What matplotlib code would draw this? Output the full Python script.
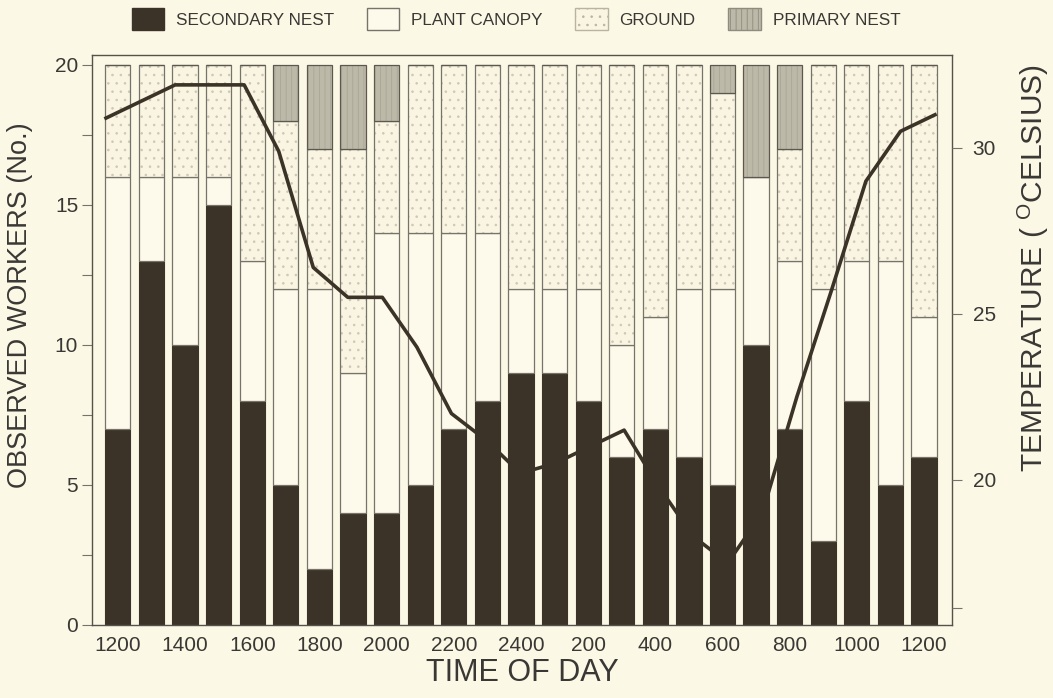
"""Worker location by hour (stacked bars) with air temperature overlay."""
import numpy as np
import matplotlib.pyplot as plt
from matplotlib.patches import Patch

plt.rcParams["font.family"] = ["Liberation Sans", "DejaVu Sans"]
plt.rcParams["mathtext.fontset"] = "custom"
plt.rcParams["mathtext.rm"] = "Liberation Sans"
plt.rcParams["hatch.linewidth"] = 0.6

hours = ["1200", "1300", "1400", "1500", "1600", "1700", "1800", "1900", "2000",
         "2100", "2200", "2300", "2400", "100", "200", "300", "400", "500", "600",
         "700", "800", "900", "1000", "1100", "1200"]
secondary_nest = [7, 13, 10, 15, 8, 5, 2, 4, 4, 5, 7, 8, 9, 9, 8, 6, 7, 6, 5, 10, 7, 3, 8, 5, 6]
plant_canopy = [9, 3, 6, 1, 5, 7, 10, 5, 10, 9, 7, 6, 3, 3, 4, 4, 4, 6, 7, 6, 6, 9, 5, 8, 5]
ground = [4, 4, 4, 4, 7, 6, 5, 8, 4, 6, 6, 6, 8, 8, 8, 10, 9, 8, 7, 0, 4, 8, 7, 7, 9]
primary_nest = [0, 0, 0, 0, 0, 2, 3, 3, 2, 0, 0, 0, 0, 0, 0, 0, 0, 0, 1, 4, 3, 0, 0, 0, 0]
temperature = [30.9, 31.4, 31.9, 31.9, 31.9, 29.9, 26.4, 25.5, 25.5, 24.0, 22.0, 21.2, 20.2,
               20.5, 21.0, 21.5, 19.8, 18.3, 17.5, 19.0, 22.5, 25.7, 29.0, 30.5, 31.0]

BG = "#fcf8e6"
DARK = "#3b3327"
EDGE = "#77726a"
TXT = "#3a3834"
GROUND_FC = "#f9f5e2"
GROUND_DOT = "#cdc7b4"
PN_FC = "#bdb9a9"
PN_HATCH = "#aaa696"

fig = plt.figure(figsize=(10.53, 6.98), dpi=100, facecolor=BG)
ax = fig.add_axes([0.0874, 0.1046, 0.8166, 0.8166])
ax.set_facecolor(BG)

x = np.arange(len(hours))
w = 0.75
sn = np.array(secondary_nest)
pc = np.array(plant_canopy)
gr = np.array(ground)
pn = np.array(primary_nest)

ax.bar(x, sn, w, color=DARK, edgecolor=DARK, lw=0.8)
ax.bar(x, pc, w, bottom=sn, color="#fdfaeb", edgecolor=EDGE, lw=0.9)
# stippled ground: hatch layer then outline
ax.bar(x, gr, w, bottom=sn + pc, color=GROUND_FC, edgecolor=GROUND_DOT, hatch="..", lw=0)
ax.bar(x, gr, w, bottom=sn + pc, color="none", edgecolor=EDGE, lw=0.9)
ax.bar(x, pn, w, bottom=sn + pc + gr, color=PN_FC, edgecolor=PN_HATCH, hatch="|||", lw=0)
ax.bar(x, pn, w, bottom=sn + pc + gr, color="none", edgecolor="#5d584e", lw=0.9)

ax.set_xlim(-0.77, 24.83)
ax.set_ylim(0, 20.35)
ax.set_xticks(x[::2])
ax.set_xticklabels(hours[::2], fontsize=15, color=TXT)
ax.tick_params(axis="x", length=0, pad=8)
ax.set_yticks([0, 5, 10, 15, 20])
ax.set_yticks([2.5, 7.5, 12.5, 17.5], minor=True)
ax.tick_params(axis="y", which="both", direction="out", length=7, width=0.8,
               color=EDGE, labelsize=15, labelcolor=TXT, pad=3)
for s in ax.spines.values():
    s.set_color("#55524b")
    s.set_linewidth(1.0)
ax.set_xlabel("TIME OF DAY", fontsize=22, color=TXT, labelpad=2)
ax.set_ylabel("OBSERVED WORKERS (No.)", fontsize=19.5, color=TXT)
ax.yaxis.set_label_coords(-0.069, 0.561)

# temperature on its own overlay axes (line is drawn on its own hourly scale)
ax2 = fig.add_axes(ax.get_position(), frameon=False)
ax2.patch.set_visible(False)
ax2.plot(np.arange(len(temperature)), temperature, color=DARK, lw=2.6)
ax2.set_xlim(-0.405, 24.49)
ax2.set_ylim(15.63, 32.8)
ax2.xaxis.set_visible(False)
ax2.yaxis.tick_right()
ax2.yaxis.set_label_position("right")
ax2.set_yticks([20, 25, 30])
ax2.set_yticks([16.15], minor=True)
ax2.tick_params(axis="y", which="both", direction="out", length=7, width=0.8,
                color=EDGE, labelsize=15, labelcolor=TXT, pad=8)
ax2.set_ylabel(r"TEMPERATURE ( $^{\mathrm{O}}$CELSIUS)", fontsize=21.5, color=TXT)
ax2.yaxis.set_label_coords(1.073, 0.626)

handles = [
    Patch(facecolor=DARK, edgecolor=DARK, label="SECONDARY NEST"),
    Patch(facecolor="#fdfaeb", edgecolor=EDGE, label="PLANT CANOPY"),
    Patch(facecolor=GROUND_FC, edgecolor="#b9b4a2", hatch="..", label="GROUND"),
    Patch(facecolor=PN_FC, edgecolor="#8f8b7d", hatch="|||", label="PRIMARY NEST"),
]
leg = fig.legend(handles=handles, loc="upper center", bbox_to_anchor=(0.49, 1.01), ncol=4,
                 frameon=False, fontsize=12.3, handlelength=1.9, handleheight=1.6,
                 columnspacing=1.9, handletextpad=0.7)
for t in leg.get_texts():
    t.set_color(TXT)

fig.savefig("out.png", dpi=100, facecolor=BG)
